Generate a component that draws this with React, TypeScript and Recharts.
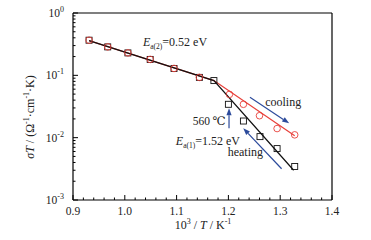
import React from 'react';
import { ComposedChart, XAxis, YAxis, Scatter, Line, ReferenceLine, ReferenceDot, Label } from 'recharts';

// Shared points (heating & cooling coincide at high temperature)
const sharedX = [0.931, 0.967, 1.006, 1.049, 1.095, 1.144];
const sharedY = [0.366, 0.286, 0.229, 0.18, 0.129, 0.0927];
// Heating (squares)
const heatingX = [1.172, 1.2, 1.229, 1.261, 1.294, 1.328];
const heatingY = [0.0824, 0.0343, 0.0185, 0.0104, 0.00668, 0.00345];
// Cooling (circles)
const coolingX = [1.202, 1.229, 1.26, 1.294, 1.328];
const coolingY = [0.0495, 0.0343, 0.0225, 0.014, 0.0111];
// Fitted lines
const fitHeatX = [0.931, 1.172, 1.326];
const fitHeatY = [0.36, 0.0824, 0.003];
const fitCoolX = [0.931, 1.172, 1.328];
const fitCoolY = [0.36, 0.0824, 0.0107];
// Tick values
const xTicks = Array.from({ length: 26 }, (_, i) => Math.round((0.9 + i * 0.02) * 100) / 100);
const yTicks: number[] = [];
[-3, -2, -1].forEach((e) => {
  for (let m = 1; m <= 9; m++) yTicks.push(m * Math.pow(10, e));
});
yTicks.push(1);

const zip = (xs: number[], ys: number[]) => xs.map((x, i) => ({ x, y: ys[i] }));
const squares = zip([...sharedX, ...heatingX], [...sharedY, ...heatingY]);
const circles = zip([...sharedX, ...coolingX], [...sharedY, ...coolingY]);
const fitHeat = zip(fitHeatX, fitHeatY);
const fitCool = zip(fitCoolX, fitCoolY);

const RED = '#e8403a';
const BLUE = '#2b4a9b';
const FONT = 'Liberation Serif, DejaVu Serif, serif';

const XTick = (props: any) => {
  const { x, y, payload } = props;
  const v = payload.value as number;
  const major = Math.abs(v * 10 - Math.round(v * 10)) < 1e-6;
  return (
    <g>
      <line x1={x} x2={x} y1={y} y2={y - (major ? 5 : 2.5)} stroke="#000" strokeWidth={1} />
      {major && (
        <text x={x} y={y + 15} textAnchor="middle" style={{ fontFamily: FONT, fontSize: 11.5 }} fill="#222">
          {v.toFixed(1)}
        </text>
      )}
    </g>
  );
};

const YTick = (props: any) => {
  const { x, y, payload } = props;
  const v = payload.value as number;
  const e = Math.log10(v);
  const major = Math.abs(e - Math.round(e)) < 1e-6;
  return (
    <g>
      <line x1={x} x2={x + (major ? 5 : 2.5)} y1={y} y2={y} stroke="#000" strokeWidth={1} />
      {major && (
        <text x={x - 9} y={y + 4} textAnchor="end" style={{ fontFamily: FONT, fontSize: 11.5 }} fill="#222">
          10
          <tspan dy={-5} style={{ fontSize: 8 }}>{String(Math.round(e))}</tspan>
        </text>
      )}
    </g>
  );
};

const Square = (props: any) => {
  const { cx, cy } = props;
  return <rect x={cx - 3} y={cy - 3} width={6} height={6} fill="none" stroke="#111" strokeWidth={0.9} />;
};
const Circle = (props: any) => {
  const { cx, cy } = props;
  return <circle cx={cx} cy={cy} r={3.3} fill="none" stroke={RED} strokeWidth={0.9} />;
};

const Arrow = (props: any) => {
  const { x1, y1, x2, y2 } = props;
  const a = Math.atan2(y2 - y1, x2 - x1);
  const L = 7;
  const W = 2.6;
  const bx = x2 - L * Math.cos(a);
  const by = y2 - L * Math.sin(a);
  const pts = `${x2},${y2} ${bx - W * Math.sin(a)},${by + W * Math.cos(a)} ${bx + W * Math.sin(a)},${by - W * Math.cos(a)}`;
  return (
    <g>
      <line x1={x1} y1={y1} x2={bx} y2={by} stroke={BLUE} strokeWidth={1.2} />
      <polygon points={pts} fill={BLUE} />
    </g>
  );
};

const TextAt = (content: React.ReactNode, size = 12) => (props: any) => (
  <text x={props.cx} y={props.cy} style={{ fontFamily: FONT, fontSize: size }} fill="#222">
    {content}
  </text>
);

const Ea = (sub: string, val: string) => (
  <>
    <tspan style={{ fontStyle: 'italic' }}>E</tspan>
    <tspan dy={3} style={{ fontSize: 7.5 }}>{sub}</tspan>
    <tspan dy={-3}>{val}</tspan>
  </>
);

const YLabel = () => (
  <text
    transform="translate(34,117) rotate(-90)"
    textAnchor="middle"
    style={{ fontFamily: FONT, fontSize: 12 }}
    fill="#222"
  >
    <tspan style={{ fontStyle: 'italic' }}>σT</tspan>
    <tspan> / (Ω</tspan>
    <tspan dy={-5} style={{ fontSize: 8 }}>-1</tspan>
    <tspan dy={5}>·cm</tspan>
    <tspan dy={-5} style={{ fontSize: 8 }}>-1</tspan>
    <tspan dy={5}>·K)</tspan>
  </text>
);

const XLabel = () => (
  <text x={203} y={229} textAnchor="middle" style={{ fontFamily: FONT, fontSize: 12 }} fill="#222">
    10
    <tspan dy={-5} style={{ fontSize: 8 }}>3</tspan>
    <tspan dy={5}> / </tspan>
    <tspan style={{ fontStyle: 'italic' }}>T</tspan>
    <tspan> / K</tspan>
    <tspan dy={-5} style={{ fontSize: 8 }}>-1</tspan>
  </text>
);

export default function App() {
  return (
    <div style={{ position: 'absolute', left: 0, top: 0, background: '#fff' }}>
      <ComposedChart width={371} height={240} margin={{ top: 13, right: 39, bottom: 0, left: 0 }}>
        <XAxis
          dataKey="x"
          type="number"
          domain={[0.9, 1.4]}
          ticks={xTicks}
          interval={0}
          tickSize={0}
          tickMargin={0}
          tickLine={false}
          tick={XTick}
          height={40}
          axisLine={{ stroke: '#000', strokeWidth: 1.2 }}
          allowDataOverflow
        >
          <Label content={XLabel} />
        </XAxis>
        <YAxis
          dataKey="y"
          type="number"
          scale="log"
          domain={[0.001, 1]}
          ticks={yTicks}
          interval={0}
          tickSize={0}
          tickMargin={0}
          tickLine={false}
          tick={YTick}
          width={73}
          axisLine={{ stroke: '#000', strokeWidth: 1.2 }}
          allowDataOverflow
        >
          <Label content={YLabel} />
        </YAxis>
        <ReferenceLine y={1} stroke="#000" strokeWidth={1.2} ifOverflow="visible" />
        <ReferenceLine x={1.4} stroke="#000" strokeWidth={1.2} ifOverflow="visible" />

        <Line data={fitCool} dataKey="y" stroke={RED} strokeWidth={1.2} dot={false} isAnimationActive={false} />
        <Line data={fitHeat} dataKey="y" stroke="#111" strokeWidth={1.2} dot={false} isAnimationActive={false} />
        <Scatter data={squares} dataKey="y" shape={Square} isAnimationActive={false} />
        <Scatter data={circles} dataKey="y" shape={Circle} isAnimationActive={false} />

        <ReferenceLine segment={[{ x: 1.2416, y: 0.0444 }, { x: 1.3173, y: 0.017 }]} shape={Arrow} ifOverflow="visible" />
        <ReferenceLine segment={[{ x: 1.3027, y: 0.00317 }, { x: 1.2287, y: 0.01417 }]} shape={Arrow} ifOverflow="visible" />
        <ReferenceLine segment={[{ x: 1.2012, y: 0.01417 }, { x: 1.2012, y: 0.0296 }]} shape={Arrow} ifOverflow="visible" />

        <ReferenceDot x={1.035} y={0.299} shape={TextAt(Ea('a(2)', '=0.52 eV'))} ifOverflow="visible" />
        <ReferenceDot x={1.271} y={0.0322} shape={TextAt('cooling')} ifOverflow="visible" />
        <ReferenceDot x={1.131} y={0.0157} shape={TextAt('560 ℃', 11.5)} ifOverflow="visible" />
        <ReferenceDot x={1.0985} y={0.00766} shape={TextAt(Ea('a(1)', '=1.52 eV'))} ifOverflow="visible" />
        <ReferenceDot x={1.1987} y={0.0051} shape={TextAt('heating')} ifOverflow="visible" />
      </ComposedChart>
    </div>
  );
}
